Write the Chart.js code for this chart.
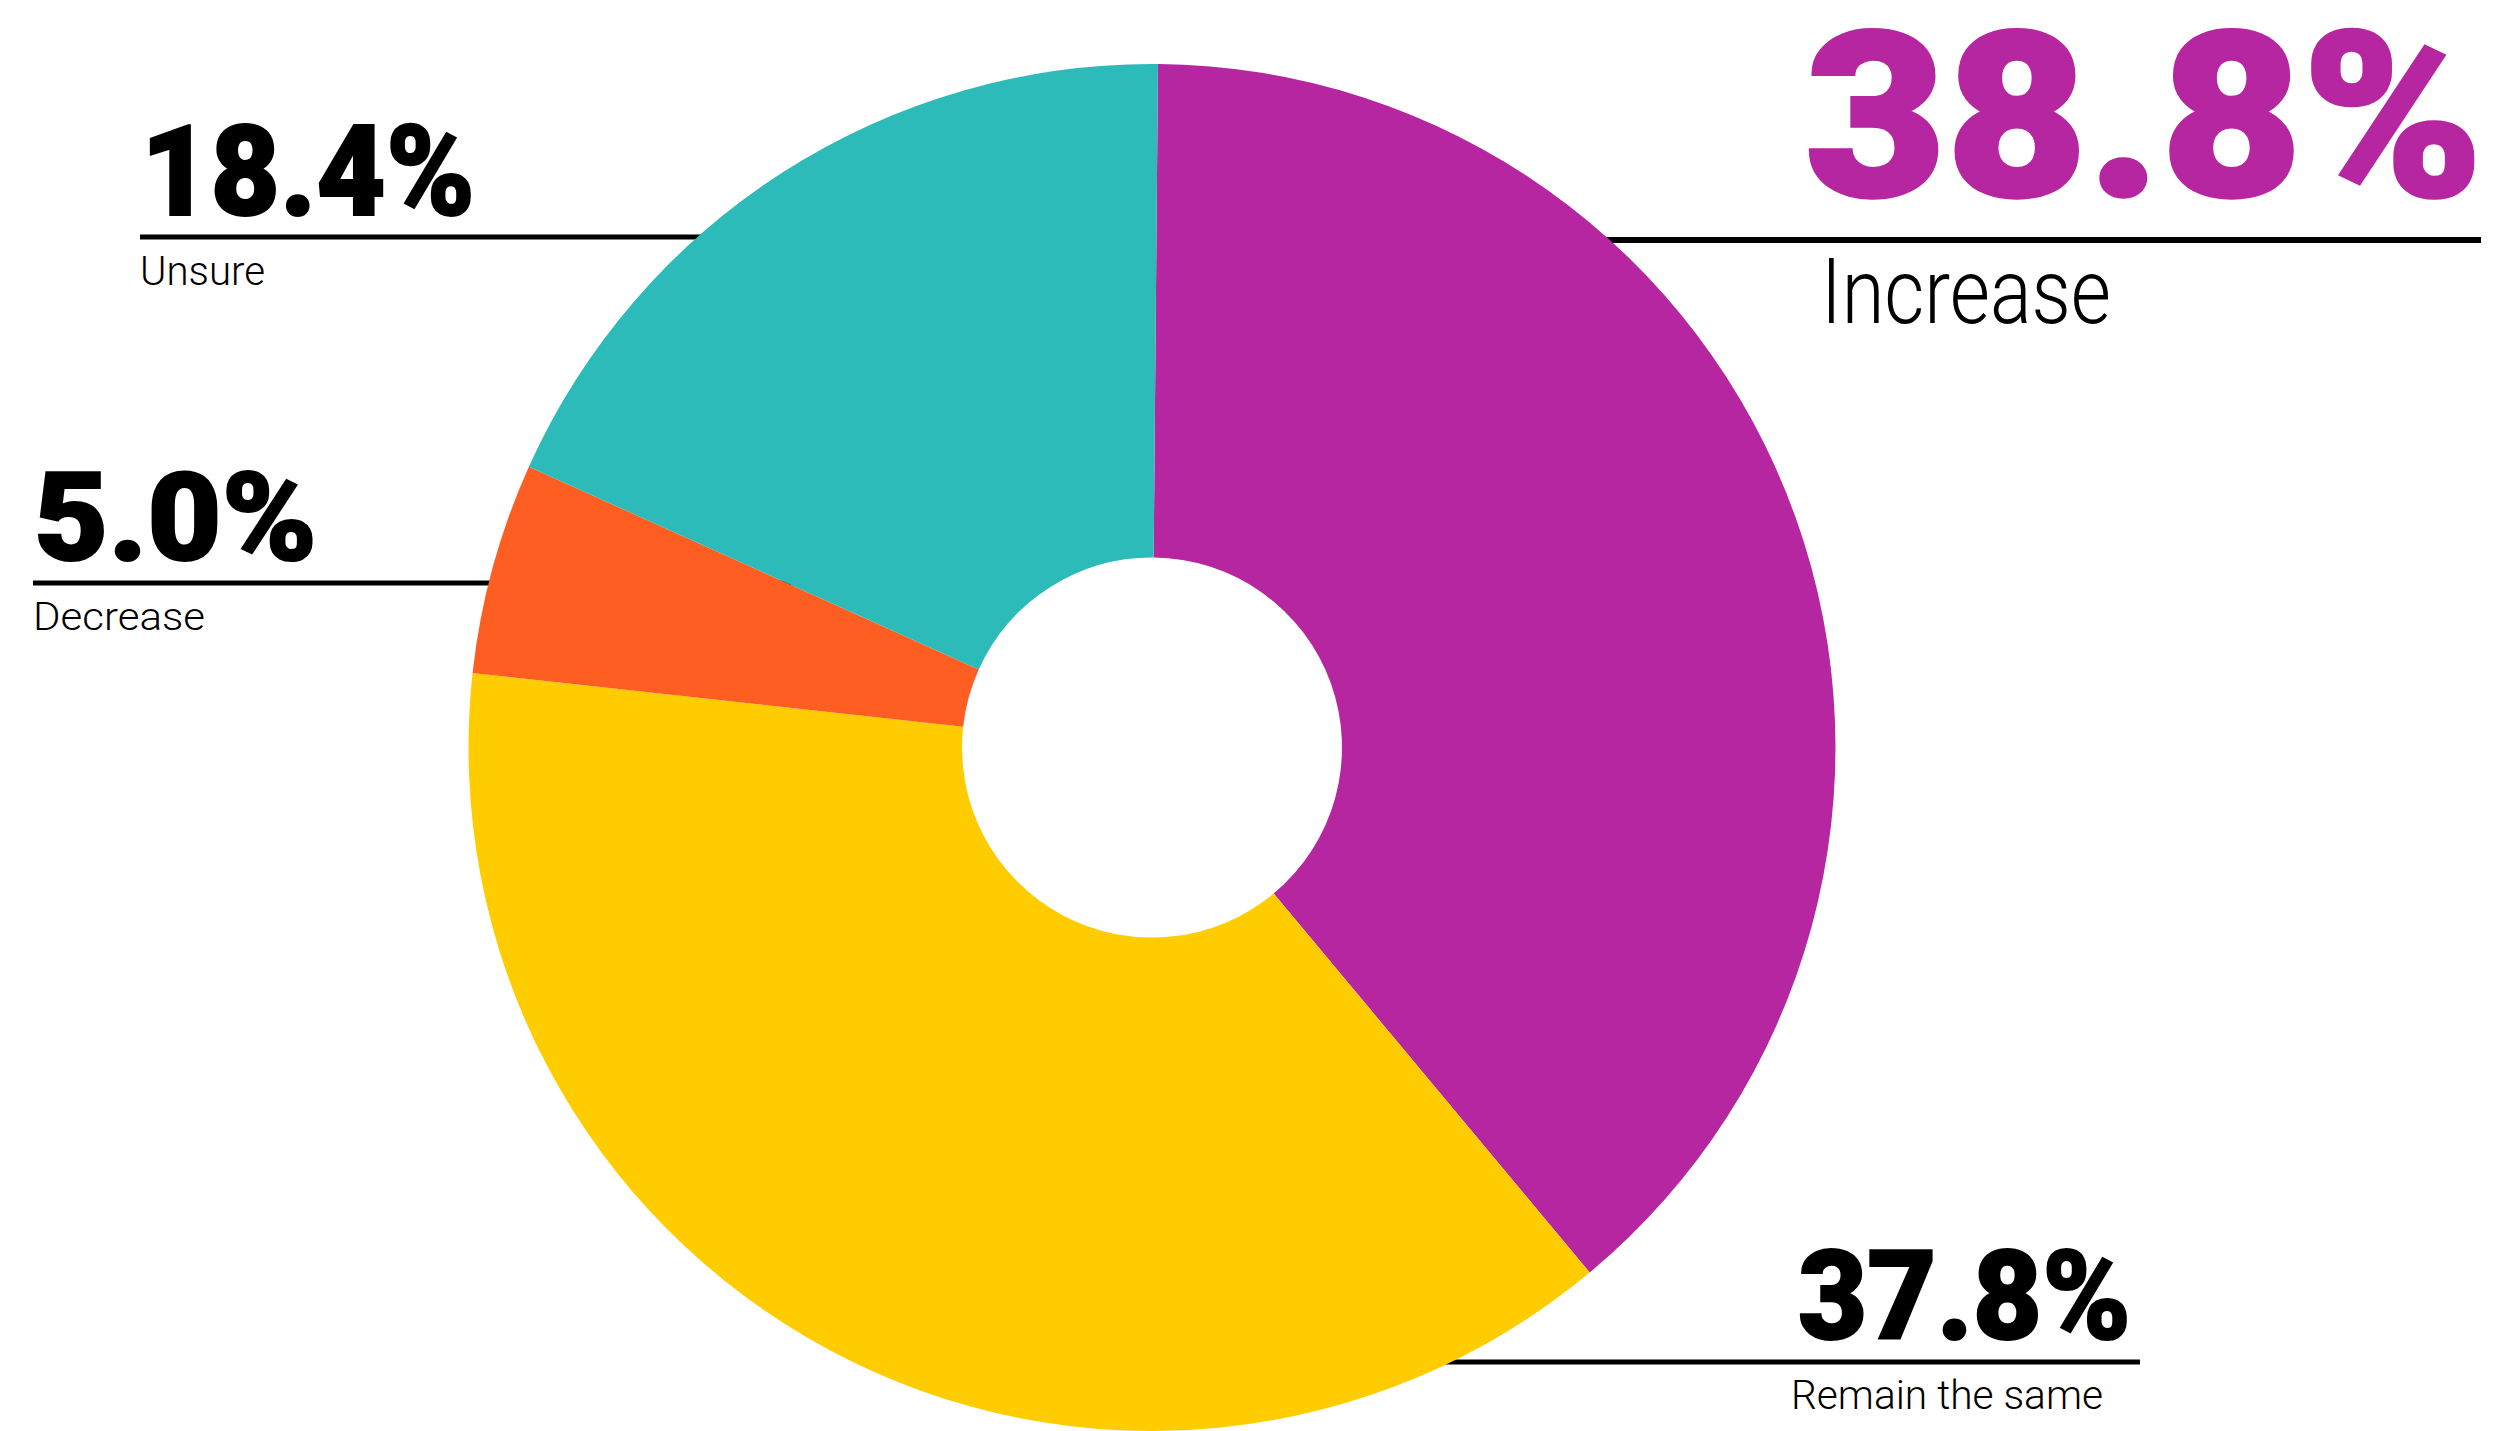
<!DOCTYPE html>
<html><head><meta charset="utf-8">
<script src="https://cdn.jsdelivr.net/npm/chart.js@4.4.1/dist/chart.umd.min.js"></script>
<style>
html,body{margin:0;padding:0;background:#fff;width:2504px;height:1431px;overflow:hidden}
#wrap{position:absolute;left:0;top:0;width:2504px;height:1431px;z-index:1}
#ann{position:absolute;left:0;top:0;z-index:0}
</style></head><body>
<svg id="ann" width="2504" height="1431" xmlns="http://www.w3.org/2000/svg"></svg>
<div id="wrap"><canvas id="c"></canvas></div>
<script>
// ---- data ----
const categories = ["Increase", "Remain the same", "Decrease", "Unsure"];
const values = [38.8, 37.8, 5.0, 18.4];

// ---- styles ----
const sliceColors = ["#B626A0", "#FFCC00", "#FF5E22", "#2CBBB9"];
const numFont = "'Roboto','Liberation Sans',Arial,sans-serif";
const txtFont = "'Roboto','Liberation Sans',Arial,sans-serif";
const layout = {
  "Increase":        {x:1805, numBase:196, numSize:230, numW:678, numColor:"#B626A0", stroke:3.5, lineY:240, lineX1:1500, lineX2:2481, lineW:6, txtX:1821, txtBase:323, txtSize:90, txtW:290},
  "Unsure":          {x:141,  numBase:215, numSize:127, numW:334, numColor:"#000",    stroke:2,   lineY:237, lineX1:140,  lineX2:800,  lineW:5, txtX:140, txtBase:285, txtSize:41, txtW:125},
  "Decrease":        {x:34,   numBase:560, numSize:123, numW:283, numColor:"#000",    stroke:2,   lineY:583, lineX1:33,   lineX2:800,  lineW:5, txtX:33,  txtBase:630, txtSize:39, txtW:172},
  "Remain the same": {x:1798, numBase:1339,numSize:125, numW:333, numColor:"#000",    stroke:2,   lineY:1362,lineX1:1300, lineX2:2140, lineW:5, txtX:1791,txtBase:1409,txtSize:41, txtW:312}
};

const svg = document.getElementById('ann');
const NS = "http://www.w3.org/2000/svg";
function el(tag, attrs, text){
  const e = document.createElementNS(NS, tag);
  for (const k in attrs) e.setAttribute(k, attrs[k]);
  if (text !== undefined) e.textContent = text;
  svg.appendChild(e);
  return e;
}
categories.forEach((cat, i) => {
  const L = layout[cat];
  el('line', {x1:L.lineX1, x2:L.lineX2, y1:L.lineY, y2:L.lineY, stroke:'#000', 'stroke-width':L.lineW});
  el('text', {x:L.x, y:L.numBase, fill:L.numColor, stroke:L.numColor, 'stroke-width':L.stroke, 'stroke-linejoin':'miter',
    'font-family':numFont, 'font-weight':900,
    'font-size':L.numSize, textLength:L.numW, lengthAdjust:'spacingAndGlyphs'}, values[i].toFixed(1) + '%');
  el('text', {x:L.txtX, y:L.txtBase, fill:'#000', 'font-family':txtFont, 'font-weight':300,
    'font-size':L.txtSize, textLength:L.txtW, lengthAdjust:'spacingAndGlyphs'}, cat);
});

new Chart(document.getElementById('c'), {
  type: 'doughnut',
  data: {
    labels: categories,
    datasets: [{
      data: values,
      backgroundColor: sliceColors,
      borderWidth: 0,
      hoverOffset: 0,
      spacing: 0
    }]
  },
  options: {
    responsive: true,
    maintainAspectRatio: false,
    animation: false,
    rotation: 0.5,
    cutout: '27.8%',
    layout: { padding: { left: 0, right: 200, top: 64, bottom: 0 } },
    plugins: { legend: { display: false }, tooltip: { enabled: false } }
  }
});
</script>
</body></html>
